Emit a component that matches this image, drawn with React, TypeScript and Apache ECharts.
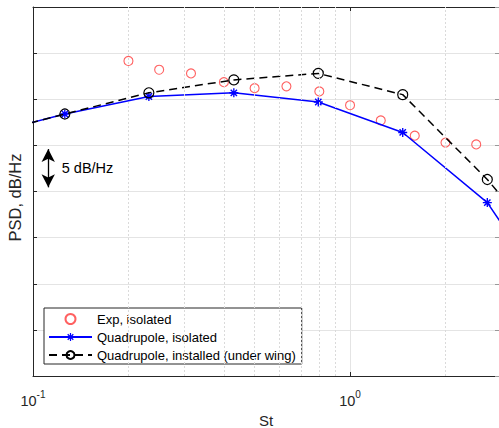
import React, { useEffect, useRef } from "react";
import * as echarts from "echarts";

// Model (quadrupole) Strouhal numbers and PSD levels (dB/Hz, arbitrary reference)
const modelSt = [0.068, 0.126, 0.232, 0.43, 0.794, 1.466, 2.71, 5.0];
const isolatedPsd = [26.0, 28.4, 30.3, 30.7, 29.7, 26.4, 18.8, 5.2];
const installedPsd = [26.0, 28.4, 30.7, 32.1, 32.8, 30.5, 21.3, 10.5];

// Experimental, isolated jet (third-octave bands)
const expSt = [0.2, 0.25, 0.315, 0.4, 0.5, 0.63, 0.8, 1.0, 1.25, 1.6, 2.0, 2.5];
const expPsd = [34.15, 33.2, 32.8, 31.85, 31.2, 31.4, 30.85, 29.35, 27.7, 26.05, 25.3, 25.1];

// Axis settings
const xMin = 0.1;
const xMax = 2.95;
const yMin = 0;
const yMax = 40;
const yStep = 5;
const minorGridSt = [0.2, 0.3, 0.4, 0.5, 0.6, 0.7, 0.8, 0.9, 2];

// Scale bar annotation
const scaleBarSt = 0.1117;
const scaleBarFrom = 20.45;
const scaleBarTo = 24.6;
const scaleBarMid = 22.5;
const scaleBarLabel = "5 dB/Hz";

const seriesNames = [
  "Exp, isolated",
  "Quadrupole, isolated",
  "Quadrupole, installed (under wing)",
];

const AXIS = "#262626";
const GRID = "#e4e4e4";
const FONT = "Liberation Sans, Arial, Helvetica, sans-serif";

const asterisk =
  "path://M8.5,0L11.5,0L11.5,20L8.5,20Z M0,8.5L20,8.5L20,11.5L0,11.5Z M4.1,1.9L18.1,15.9L15.9,18.1L1.9,4.1Z M15.9,1.9L18.1,4.1L4.1,18.1L1.9,15.9Z";

function pairs(xs: number[], ys: number[]) {
  return xs.map((x, i) => [x, ys[i]]);
}

export default function App() {
  const ref = useRef<HTMLDivElement>(null);
  useEffect(() => {
    if (!ref.current) return;
    const chart = echarts.init(ref.current, undefined, { renderer: "svg" });
    const logLabel = (v: number) => {
      const p = Math.log10(v);
      const r = Math.round(p);
      if (Math.abs(p - r) > 1e-6) return "";
      return "{b|10}{s|" + r + "}";
    };
    chart.setOption({
      animation: false,
      backgroundColor: "#ffffff",
      textStyle: { fontFamily: FONT },
      grid: {
        left: 33,
        right: 0,
        top: 7,
        bottom: 52,
        containLabel: false,
        outerBoundsMode: "none",
      },
      legend: {
        data: seriesNames,
        orient: "vertical",
        left: 44,
        top: 308,
        itemWidth: 43,
        itemHeight: 10,
        itemGap: 4,
        padding: [4, 6, 2, 4],
        borderColor: AXIS,
        borderWidth: 1,
        borderRadius: 0,
        backgroundColor: "#ffffff",
        textStyle: { fontSize: 13, color: "#000", fontFamily: FONT, lineHeight: 14 },
        selectedMode: false,
      },
      xAxis: [
        {
          type: "log",
          logBase: 10,
          min: xMin,
          max: xMax,
          position: "bottom",
          name: "St",
          nameLocation: "middle",
          nameGap: 33,
          nameTextStyle: { fontSize: 15, color: AXIS, fontFamily: FONT },
          axisLine: { show: true, onZero: false, lineStyle: { color: AXIS, width: 1 } },
          axisTick: { show: true, inside: true, length: 4, lineStyle: { color: AXIS } },
          axisLabel: {
            show: true,
            margin: 11,
            formatter: logLabel,
            rich: {
              b: { fontSize: 14.5, color: AXIS, fontFamily: FONT, padding: [6, 0, 0, 0] },
              s: { fontSize: 10, color: AXIS, fontFamily: FONT, padding: [0, 0, 6, 0] },
            },
          },
          splitLine: { show: true, lineStyle: { color: GRID, width: 1 } },
        },
        {
          type: "log",
          logBase: 10,
          min: xMin,
          max: xMax,
          position: "top",
          axisLine: { show: true, onZero: false, lineStyle: { color: AXIS, width: 1 } },
          axisTick: { show: true, inside: true, length: 4, lineStyle: { color: AXIS } },
          axisLabel: { show: false },
          splitLine: { show: false },
        },
      ],
      yAxis: [
        {
          type: "value",
          min: yMin,
          max: yMax,
          interval: yStep,
          position: "left",
          name: "PSD, dB/Hz",
          nameLocation: "middle",
          nameGap: 10,
          nameTextStyle: {
            fontSize: 16.5,
            color: AXIS,
            fontFamily: FONT,
            padding: [0, 12, 0, 0],
          },
          axisLine: { show: true, onZero: false, lineStyle: { color: AXIS, width: 1 } },
          axisTick: { show: true, inside: true, length: 4, lineStyle: { color: AXIS } },
          axisLabel: { show: false },
          splitLine: { show: true, lineStyle: { color: GRID, width: 1 } },
        },
        {
          type: "value",
          min: yMin,
          max: yMax,
          interval: yStep,
          position: "right",
          axisLine: { show: false },
          axisTick: { show: true, inside: true, length: 4, lineStyle: { color: "#999" } },
          axisLabel: { show: false },
          splitLine: { show: false },
        },
      ],
      series: [
        {
          name: "minor-grid",
          type: "line",
          data: [],
          silent: true,
          z: 1,
          markLine: {
            silent: true,
            symbol: ["none", "none"],
            label: { show: false },
            lineStyle: { color: "#dadada", width: 1, type: [2, 2] },
            data: minorGridSt.map((v) => ({ xAxis: v })),
          },
        },
        {
          name: seriesNames[0],
          type: "scatter",
          data: pairs(expSt, expPsd),
          symbol: "circle",
          symbolSize: 9,
          itemStyle: { color: "rgba(0,0,0,0)", borderColor: "#ff3a3a", borderWidth: 1.1 },
          z: 2,
          clip: true,
        },
        {
          name: seriesNames[1],
          type: "line",
          data: pairs(modelSt, isolatedPsd),
          symbol: asterisk,
          symbolSize: 9,
          showAllSymbol: true,
          itemStyle: { color: "#0000ff" },
          lineStyle: { color: "#0000ff", width: 1.5 },
          z: 3,
          clip: true,
        },
        {
          name: seriesNames[2],
          type: "line",
          data: pairs(modelSt, installedPsd),
          symbol: "circle",
          symbolSize: 10,
          showAllSymbol: true,
          itemStyle: { color: "rgba(0,0,0,0)", borderColor: "#000", borderWidth: 1.2 },
          lineStyle: { color: "#000", width: 1.5, type: [8, 5] },
          z: 4,
          clip: true,
        },
        {
          name: "scale-bar",
          type: "line",
          data: [],
          silent: true,
          z: 5,
          markLine: {
            silent: true,
            symbol: ["arrow", "arrow"],
            symbolSize: [10, 13],
            label: { show: false },
            lineStyle: { color: "#000", width: 1.3, type: "solid" },
            data: [[{ coord: [scaleBarSt, scaleBarFrom] }, { coord: [scaleBarSt, scaleBarTo] }]],
          },
          markPoint: {
            silent: true,
            symbol: "circle",
            symbolSize: 1,
            itemStyle: { color: "rgba(0,0,0,0)" },
            label: {
              show: true,
              position: "right",
              distance: 13,
              formatter: scaleBarLabel,
              fontSize: 14.5,
              color: "#000",
              fontFamily: FONT,
            },
            data: [{ coord: [scaleBarSt, scaleBarMid] }],
          },
        },
      ],
    });
    return () => chart.dispose();
  }, []);
  return (
    <div
      ref={ref}
      style={{ position: "absolute", left: 0, top: 0, width: 499, height: 428 }}
    />
  );
}
